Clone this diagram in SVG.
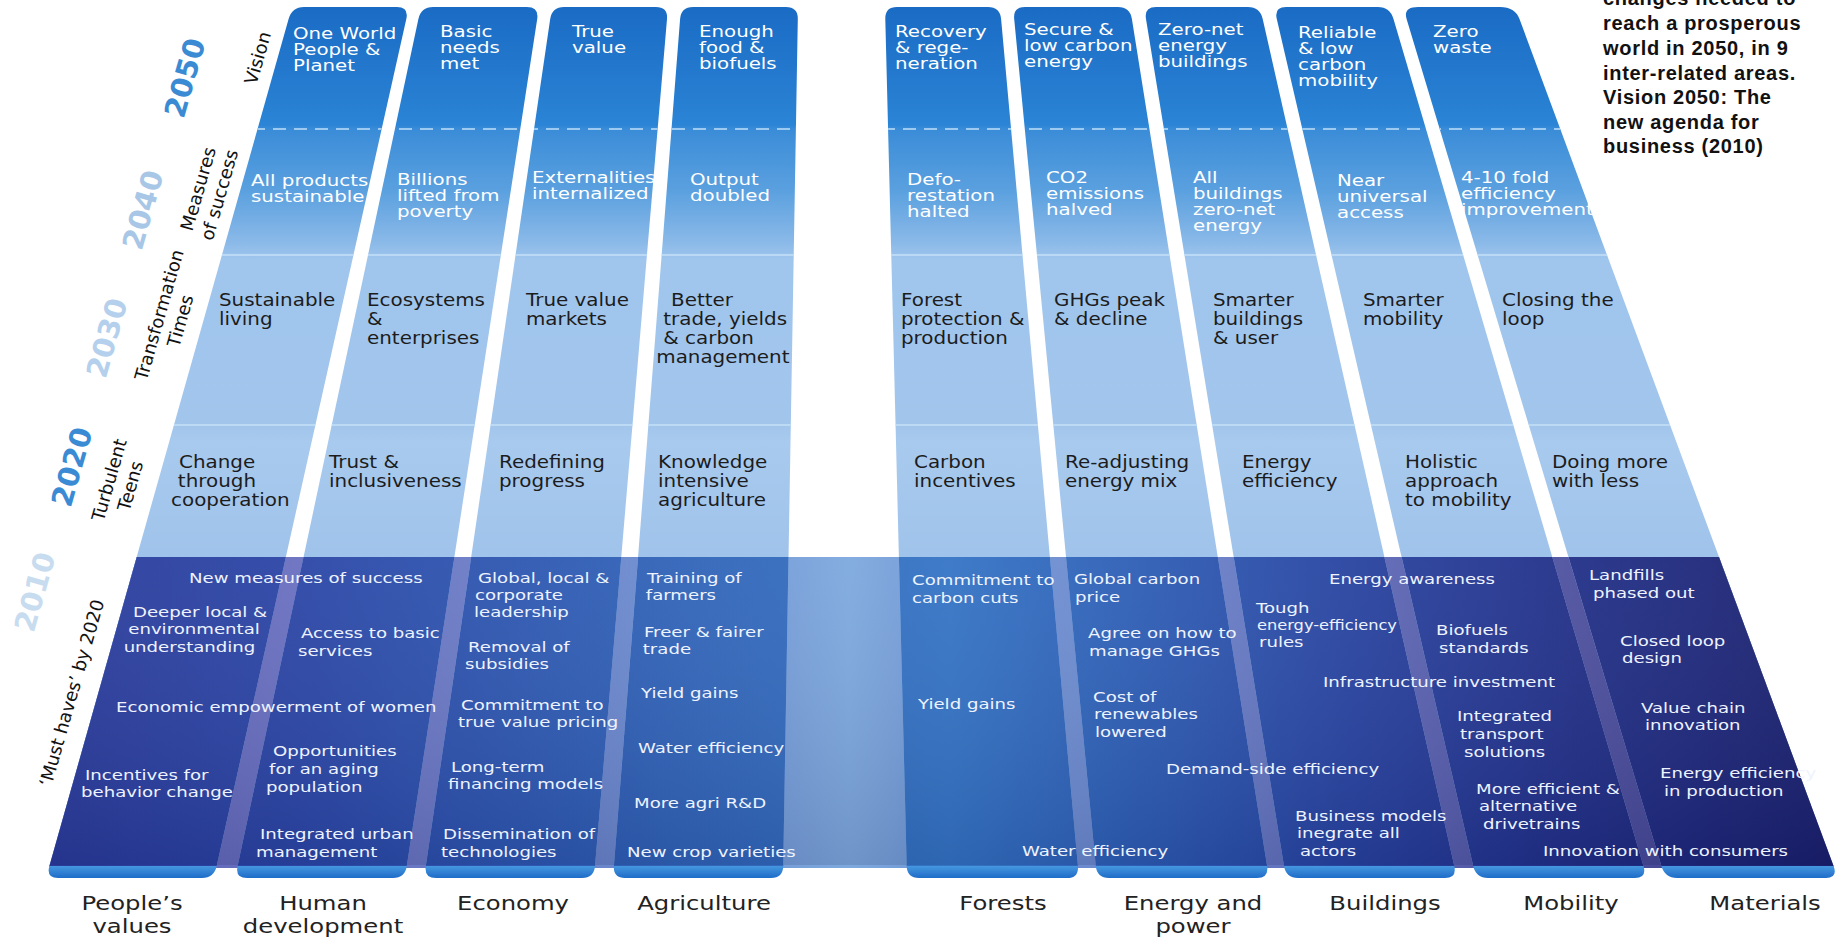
<svg xmlns="http://www.w3.org/2000/svg" width="1838" height="939" viewBox="0 0 1838 939">
<defs>
<style>
text { font-family: "DejaVu Sans", Verdana, sans-serif; }
.w { fill: #ffffff; font-size: 16.5px; }
.d { fill: #1c1c1c; font-size: 17px; }
.b { fill: #eef3ff; font-size: 14.5px; }
.lab { fill: #222222; font-size: 19px; text-anchor: middle; }
.side { fill: #111111; font-size: 18px; text-anchor: middle; }
.yr { font-size: 29px; font-weight: bold; text-anchor: middle; }
.note { font-family: "Liberation Sans", Arial, sans-serif; font-weight: bold; font-size: 20px; fill: #111111; letter-spacing: 0.7px; }
.col { fill: url(#colG); }
.bandpart { fill: url(#bandCol); }
</style>
<linearGradient id="colG" x1="0" y1="0" x2="0" y2="1">
<stop offset="0" stop-color="#1a6bc4"/>
<stop offset="0.135" stop-color="#2b84d5"/>
<stop offset="0.14" stop-color="#3a8cd8"/>
<stop offset="0.21" stop-color="#5aa0df"/>
<stop offset="0.27" stop-color="#8ab9e8"/>
<stop offset="0.29" stop-color="#a0c6ed"/>
<stop offset="0.48" stop-color="#a2c5ec"/>
<stop offset="0.50" stop-color="#a8caee"/>
<stop offset="0.63" stop-color="#a0c3eb"/>
<stop offset="0.984" stop-color="#a0c3eb"/>
<stop offset="0.985" stop-color="#4a9be2"/>
<stop offset="1" stop-color="#1d6cc8"/>
</linearGradient>
<linearGradient id="bandCol" gradientUnits="userSpaceOnUse" x1="40" y1="0" x2="1838" y2="0">
<stop offset="0" stop-color="#2a3a9a"/>
<stop offset="0.145" stop-color="#2b46a6"/>
<stop offset="0.256" stop-color="#2d56b0"/>
<stop offset="0.367" stop-color="#3165b9"/>
<stop offset="0.506" stop-color="#3474c5"/>
<stop offset="0.617" stop-color="#2d5cb4"/>
<stop offset="0.729" stop-color="#2843a0"/>
<stop offset="0.84" stop-color="#22318a"/>
<stop offset="1" stop-color="#1a1f6c"/>
</linearGradient>
<linearGradient id="bandBg" gradientUnits="userSpaceOnUse" x1="40" y1="0" x2="1838" y2="0">
<stop offset="0" stop-color="#5c62b6"/>
<stop offset="0.145" stop-color="#6a70c0"/>
<stop offset="0.256" stop-color="#6a7cc6"/>
<stop offset="0.367" stop-color="#6b90d2"/>
<stop offset="0.45" stop-color="#7ea9de"/>
<stop offset="0.506" stop-color="#6e95d4"/>
<stop offset="0.617" stop-color="#6c86cc"/>
<stop offset="0.729" stop-color="#5f6ab8"/>
<stop offset="0.84" stop-color="#4f52a0"/>
<stop offset="1" stop-color="#3a3c88"/>
</linearGradient>
<linearGradient id="bandShade" x1="0" y1="0" x2="0" y2="1">
<stop offset="0" stop-color="#ffffff" stop-opacity="0.05"/>
<stop offset="1" stop-color="#000028" stop-opacity="0.12"/>
</linearGradient>
<clipPath id="colsClip">
<use href="#s1"/><use href="#s2"/><use href="#s3"/><use href="#s4"/><use href="#s5"/><use href="#s6"/><use href="#s7"/><use href="#s8"/><use href="#s9"/>
</clipPath>
</defs>
<rect width="1838" height="939" fill="#ffffff"/>

<g id="band-2010">
<path d="M136.7,557 L1719,557 L1834,868 L49,868 Z" fill="url(#bandBg)"/>
</g>

<g id="columns">
<g id="col-peoples-values">
<path id="s1" class="col" d="M288.6,19 Q292,7 304,7 L397,7 Q409,7 406.3,19 L216.7,866 Q214,878 202,878 L58,878 Q46,878 49.4,866 Z"/>
<path class="bandpart" d="M136.7,557 L285.9,557 L216.7,866 L49.4,866 Z"/>
</g>
<g id="col-human-development">
<path id="s2" class="col" d="M418.4,19 Q421,7 433,7 L527,7 Q539,7 537.2,19 L406.8,866 Q405,878 393,878 L247,878 Q235,878 237.6,866 Z"/>
<path class="bandpart" d="M303.5,557 L454.4,557 L406.8,866 L237.6,866 Z"/>
</g>
<g id="col-economy">
<path id="s3" class="col" d="M550.2,19 Q552,7 564,7 L656,7 Q668,7 667,19 L595,866 Q594,878 582,878 L436,878 Q424,878 425.8,866 Z"/>
<path class="bandpart" d="M471.2,557 L621.3,557 L595,866 L425.8,866 Z"/>
</g>
<g id="col-agriculture">
<path id="s4" class="col" d="M680.1,19 Q681,7 693,7 L786,7 Q798,7 797.8,19 L783.2,866 Q783,878 771,878 L625,878 Q613,878 613.9,866 Z"/>
<path class="bandpart" d="M638.1,557 L788.5,557 L783.2,866 L613.9,866 Z"/>
</g>
<g id="col-forests">
<path id="s5" class="col" d="M885.3,19 Q885,7 897,7 L988,7 Q1000,7 1001.1,19 L1077.9,866 Q1079,878 1067,878 L919,878 Q907,878 906.7,866 Z"/>
<path class="bandpart" d="M898.9,557 L1049.9,557 L1077.9,866 L906.7,866 Z"/>
</g>
<g id="col-energy-power">
<path id="s6" class="col" d="M1014.2,19 Q1013,7 1025,7 L1118,7 Q1130,7 1131.9,19 L1267.1,866 Q1269,878 1257,878 L1109,878 Q1097,878 1095.8,866 Z"/>
<path class="bandpart" d="M1066,557 L1217.8,557 L1267.1,866 L1095.8,866 Z"/>
</g>
<g id="col-buildings">
<path id="s7" class="col" d="M1146,19 Q1144,7 1156,7 L1248,7 Q1260,7 1262.7,19 L1454.3,866 Q1457,878 1445,878 L1298,878 Q1286,878 1284,866 Z"/>
<path class="bandpart" d="M1233.7,557 L1384.4,557 L1454.3,866 L1284,866 Z"/>
</g>
<g id="col-mobility">
<path id="s8" class="col" d="M1276.8,19 Q1274,7 1286,7 L1378,7 Q1390,7 1393.5,19 L1643.5,866 Q1647,878 1635,878 L1488,878 Q1476,878 1473.2,866 Z"/>
<path class="bandpart" d="M1401.6,557 L1552.3,557 L1643.5,866 L1473.2,866 Z"/>
</g>
<g id="col-materials">
<path id="s9" class="col" d="M1406.6,19 Q1403,7 1418,7 L1500,7 Q1515,7 1519.5,19 L1833.6,866 Q1838,878 1826,878 L1677,878 Q1665,878 1661.4,866 Z"/>
<path class="bandpart" d="M1568.5,557 L1719,557 L1833.6,866 L1661.4,866 Z"/>
</g>
</g>

<g id="guides" clip-path="url(#colsClip)">
<line x1="0" y1="129" x2="1838" y2="129" stroke="#9ccaf0" stroke-width="2" stroke-dasharray="13 8"/>
<line x1="0" y1="255" x2="1838" y2="255" stroke="#c6e0f7" stroke-width="1.5"/>
<line x1="0" y1="425" x2="1838" y2="425" stroke="#c6e0f7" stroke-width="1.5"/>
</g>
<path d="M136.7,557 L1719,557 L1833,865 L49.5,865 Z" fill="url(#bandShade)"/>

<g id="timeline">
<text class="yr" fill="#3a8bd3" transform="translate(185 78) rotate(-74)" y="10">2050</text>
<text class="yr" fill="#a8c7e7" transform="translate(143 210) rotate(-74)" y="10">2040</text>
<text class="yr" fill="#b4d0ec" transform="translate(107 338) rotate(-74)" y="10">2030</text>
<text class="yr" fill="#3a8bd3" transform="translate(72 467) rotate(-74)" y="10">2020</text>
<text class="yr" fill="#c8dcf0" transform="translate(35 592) rotate(-74)" y="10">2010</text>
<text class="side" transform="translate(258 58) rotate(-74)" y="6">Vision</text>
<text class="side" transform="translate(209 192) rotate(-74)"><tspan x="0" y="-5">Measures</tspan><tspan x="0" y="17">of success</tspan></text>
<text class="side" transform="translate(170 318) rotate(-74)"><tspan x="0" y="-5">Transformation</tspan><tspan x="0" y="17">Times</tspan></text>
<text class="side" transform="translate(120 483) rotate(-74)"><tspan x="0" y="-5">Turbulent</tspan><tspan x="0" y="17">Teens</tspan></text>
<text class="side" font-size="17" transform="translate(72 693) rotate(-74)" y="6">‘Must haves’ by 2020</text>
</g>

<g id="labels">
<g id="t-peoples-values">
<text class="w" transform="translate(293 39) scale(1.2 1)"><tspan x="0">One World</tspan><tspan x="0" dy="16">People &amp;</tspan><tspan x="0" dy="16">Planet</tspan></text>
<text class="w" transform="translate(251 186) scale(1.2 1)"><tspan x="0">All products</tspan><tspan x="0" dy="16">sustainable</tspan></text>
<text class="d" transform="translate(219 306) scale(1.17 1)"><tspan x="0">Sustainable</tspan><tspan x="0" dy="19">living</tspan></text>
<text class="d" transform="translate(179 468) scale(1.17 1)"><tspan x="0">Change</tspan><tspan x="-1" dy="19">through</tspan><tspan x="-6.8" dy="19">cooperation</tspan></text>
<text class="b" transform="translate(189 583) scale(1.25 1)">New measures of success</text>
<text class="b" transform="translate(133 617) scale(1.25 1)"><tspan x="0">Deeper local &amp;</tspan><tspan x="-3.8" dy="17.5">environmental</tspan><tspan x="-7.5" dy="17.5">understanding</tspan></text>
<text class="b" transform="translate(116 712) scale(1.25 1)">Economic empowerment of women</text>
<text class="b" transform="translate(85 780) scale(1.25 1)"><tspan x="0">Incentives for</tspan><tspan x="-3.2" dy="17">behavior change</tspan></text>
<text class="lab" transform="translate(132 910) scale(1.28 1)"><tspan x="0">People’s</tspan><tspan x="0" dy="23">values</tspan></text>
</g>
<g id="t-human-development">
<text class="w" transform="translate(440 37) scale(1.2 1)"><tspan x="0">Basic</tspan><tspan x="0" dy="16">needs</tspan><tspan x="0" dy="16">met</tspan></text>
<text class="w" transform="translate(397 185) scale(1.2 1)"><tspan x="0">Billions</tspan><tspan x="0" dy="16">lifted from</tspan><tspan x="0" dy="16">poverty</tspan></text>
<text class="d" transform="translate(367 306) scale(1.17 1)"><tspan x="0">Ecosystems</tspan><tspan x="0" dy="19">&amp;</tspan><tspan x="0" dy="19">enterprises</tspan></text>
<text class="d" transform="translate(329 468) scale(1.17 1)"><tspan x="0">Trust &amp;</tspan><tspan x="0" dy="19">inclusiveness</tspan></text>
<text class="b" transform="translate(301 638) scale(1.25 1)"><tspan x="0">Access to basic</tspan><tspan x="-2.4" dy="18">services</tspan></text>
<text class="b" transform="translate(273 756) scale(1.25 1)"><tspan x="0">Opportunities</tspan><tspan x="-3.2" dy="18">for an aging</tspan><tspan x="-5.6" dy="18">population</tspan></text>
<text class="b" transform="translate(260 839) scale(1.25 1)"><tspan x="0">Integrated urban</tspan><tspan x="-3.2" dy="18">management</tspan></text>
<text class="lab" transform="translate(323 910) scale(1.28 1)"><tspan x="0">Human</tspan><tspan x="0" dy="23">development</tspan></text>
</g>
<g id="t-economy">
<text class="w" transform="translate(572 37) scale(1.2 1)"><tspan x="0">True</tspan><tspan x="0" dy="16">value</tspan></text>
<text class="w" transform="translate(532 183) scale(1.2 1)"><tspan x="0">Externalities</tspan><tspan x="0" dy="16">internalized</tspan></text>
<text class="d" transform="translate(526 306) scale(1.17 1)"><tspan x="0">True value</tspan><tspan x="0" dy="19">markets</tspan></text>
<text class="d" transform="translate(499 468) scale(1.17 1)"><tspan x="0">Redefining</tspan><tspan x="0" dy="19">progress</tspan></text>
<text class="b" transform="translate(478 583) scale(1.25 1)"><tspan x="0">Global, local &amp;</tspan><tspan x="-2.4" dy="17">corporate</tspan><tspan x="-3.2" dy="17">leadership</tspan></text>
<text class="b" transform="translate(468 652) scale(1.25 1)"><tspan x="0">Removal of</tspan><tspan x="-2.4" dy="17">subsidies</tspan></text>
<text class="b" transform="translate(461 710) scale(1.25 1)"><tspan x="0">Commitment to</tspan><tspan x="-2.4" dy="17">true value pricing</tspan></text>
<text class="b" transform="translate(451 772) scale(1.25 1)"><tspan x="0">Long-term</tspan><tspan x="-2.4" dy="17">financing models</tspan></text>
<text class="b" transform="translate(443 839) scale(1.25 1)"><tspan x="0">Dissemination of</tspan><tspan x="-1.6" dy="18">technologies</tspan></text>
<text class="lab" transform="translate(513 910) scale(1.28 1)">Economy</text>
</g>
<g id="t-agriculture">
<text class="w" transform="translate(699 37) scale(1.2 1)"><tspan x="0">Enough</tspan><tspan x="0" dy="16">food &amp;</tspan><tspan x="0" dy="16">biofuels</tspan></text>
<text class="w" transform="translate(690 185) scale(1.2 1)"><tspan x="0">Output</tspan><tspan x="0" dy="16">doubled</tspan></text>
<text class="d" transform="translate(671 306) scale(1.17 1)"><tspan x="0">Better</tspan><tspan x="-6.6" dy="19">trade, yields</tspan><tspan x="-6.6" dy="19">&amp; carbon</tspan><tspan x="-12.6" dy="19">management</tspan></text>
<text class="d" transform="translate(658 468) scale(1.17 1)"><tspan x="0">Knowledge</tspan><tspan x="0" dy="19">intensive</tspan><tspan x="0" dy="19">agriculture</tspan></text>
<text class="b" transform="translate(647 583) scale(1.25 1)"><tspan x="0">Training of</tspan><tspan x="-1" dy="17">farmers</tspan></text>
<text class="b" transform="translate(644 637) scale(1.25 1)"><tspan x="0">Freer &amp; fairer</tspan><tspan x="-1" dy="17">trade</tspan></text>
<text class="b" transform="translate(641 698) scale(1.25 1)">Yield gains</text>
<text class="b" transform="translate(638 753) scale(1.25 1)">Water efficiency</text>
<text class="b" transform="translate(634 808) scale(1.25 1)">More agri R&amp;D</text>
<text class="b" transform="translate(627 857) scale(1.25 1)">New crop varieties</text>
<text class="lab" transform="translate(704 910) scale(1.28 1)">Agriculture</text>
</g>
<g id="t-forests">
<text class="w" transform="translate(895 37) scale(1.2 1)"><tspan x="0">Recovery</tspan><tspan x="0" dy="16">&amp; rege-</tspan><tspan x="0" dy="16">neration</tspan></text>
<text class="w" transform="translate(907 185) scale(1.2 1)"><tspan x="0">Defo-</tspan><tspan x="0" dy="16">restation</tspan><tspan x="0" dy="16">halted</tspan></text>
<text class="d" transform="translate(901 306) scale(1.17 1)"><tspan x="0">Forest</tspan><tspan x="0" dy="19">protection &amp;</tspan><tspan x="0" dy="19">production</tspan></text>
<text class="d" transform="translate(914 468) scale(1.17 1)"><tspan x="0">Carbon</tspan><tspan x="0" dy="19">incentives</tspan></text>
<text class="b" transform="translate(912 585) scale(1.25 1)"><tspan x="0">Commitment to</tspan><tspan x="0" dy="18">carbon cuts</tspan></text>
<text class="b" transform="translate(918 709) scale(1.25 1)">Yield gains</text>
<text class="b" transform="translate(1022 856) scale(1.25 1)">Water efficiency</text>
<text class="lab" transform="translate(1003 910) scale(1.28 1)">Forests</text>
</g>
<g id="t-energy-power">
<text class="w" transform="translate(1024 35) scale(1.2 1)"><tspan x="0">Secure &amp;</tspan><tspan x="0" dy="16">low carbon</tspan><tspan x="0" dy="16">energy</tspan></text>
<text class="w" transform="translate(1046 183) scale(1.2 1)"><tspan x="0">CO2</tspan><tspan x="0" dy="16">emissions</tspan><tspan x="0" dy="16">halved</tspan></text>
<text class="d" transform="translate(1054 306) scale(1.17 1)"><tspan x="0">GHGs peak</tspan><tspan x="0" dy="19">&amp; decline</tspan></text>
<text class="d" transform="translate(1065 468) scale(1.17 1)"><tspan x="0">Re-adjusting</tspan><tspan x="0" dy="19">energy mix</tspan></text>
<text class="b" transform="translate(1074 584) scale(1.25 1)"><tspan x="0">Global carbon</tspan><tspan x="0.8" dy="18">price</tspan></text>
<text class="b" transform="translate(1088 638) scale(1.25 1)"><tspan x="0">Agree on how to</tspan><tspan x="0.8" dy="18">manage GHGs</tspan></text>
<text class="b" transform="translate(1093 702) scale(1.25 1)"><tspan x="0">Cost of</tspan><tspan x="0.8" dy="17.5">renewables</tspan><tspan x="1.6" dy="17.5">lowered</tspan></text>
<text class="b" transform="translate(1166 774) scale(1.25 1)">Demand-side efficiency</text>
<text class="lab" transform="translate(1193 910) scale(1.28 1)"><tspan x="0">Energy and</tspan><tspan x="0" dy="23">power</tspan></text>
</g>
<g id="t-buildings">
<text class="w" transform="translate(1158 35) scale(1.2 1)"><tspan x="0">Zero-net</tspan><tspan x="0" dy="16">energy</tspan><tspan x="0" dy="16">buildings</tspan></text>
<text class="w" transform="translate(1193 183) scale(1.2 1)"><tspan x="0">All</tspan><tspan x="0" dy="16">buildings</tspan><tspan x="0" dy="16">zero-net</tspan><tspan x="0" dy="16">energy</tspan></text>
<text class="d" transform="translate(1213 306) scale(1.17 1)"><tspan x="0">Smarter</tspan><tspan x="0" dy="19">buildings</tspan><tspan x="0" dy="19">&amp; user</tspan></text>
<text class="d" transform="translate(1242 468) scale(1.17 1)"><tspan x="0">Energy</tspan><tspan x="0" dy="19">efficiency</tspan></text>
<text class="b" transform="translate(1329 584) scale(1.25 1)">Energy awareness</text>
<text class="b" transform="translate(1256 613) scale(1.25 1)"><tspan x="0">Tough</tspan><tspan x="0.8" dy="17" textLength="112" lengthAdjust="spacingAndGlyphs">energy-efficiency</tspan><tspan x="2.4" dy="17">rules</tspan></text>
<text class="b" transform="translate(1323 687) scale(1.25 1)">Infrastructure investment</text>
<text class="b" transform="translate(1295 821) scale(1.25 1)"><tspan x="0">Business models</tspan><tspan x="1.6" dy="17.5">inegrate all</tspan><tspan x="4" dy="17.5">actors</tspan></text>
<text class="lab" transform="translate(1385 910) scale(1.28 1)">Buildings</text>
</g>
<g id="t-mobility">
<text class="w" transform="translate(1298 38) scale(1.2 1)"><tspan x="0">Reliable</tspan><tspan x="0" dy="16">&amp; low</tspan><tspan x="0" dy="16">carbon</tspan><tspan x="0" dy="16">mobility</tspan></text>
<text class="w" transform="translate(1337 186) scale(1.2 1)"><tspan x="0">Near</tspan><tspan x="0" dy="16">universal</tspan><tspan x="0" dy="16">access</tspan></text>
<text class="d" transform="translate(1363 306) scale(1.17 1)"><tspan x="0">Smarter</tspan><tspan x="0" dy="19">mobility</tspan></text>
<text class="d" transform="translate(1405 468) scale(1.17 1)"><tspan x="0">Holistic</tspan><tspan x="0" dy="19">approach</tspan><tspan x="0" dy="19">to mobility</tspan></text>
<text class="b" transform="translate(1436 635) scale(1.25 1)"><tspan x="0">Biofuels</tspan><tspan x="2.4" dy="18">standards</tspan></text>
<text class="b" transform="translate(1457 721) scale(1.25 1)"><tspan x="0">Integrated</tspan><tspan x="2.4" dy="18">transport</tspan><tspan x="5.6" dy="18">solutions</tspan></text>
<text class="b" transform="translate(1476 794) scale(1.25 1)"><tspan x="0">More efficient &amp;</tspan><tspan x="2.4" dy="17.5">alternative</tspan><tspan x="5.6" dy="17.5">drivetrains</tspan></text>
<text class="b" transform="translate(1543 856) scale(1.25 1)">Innovation with consumers</text>
<text class="lab" transform="translate(1571 910) scale(1.28 1)">Mobility</text>
</g>
<g id="t-materials">
<text class="w" transform="translate(1433 37) scale(1.2 1)"><tspan x="0">Zero</tspan><tspan x="0" dy="16">waste</tspan></text>
<text class="w" transform="translate(1461 183) scale(1.2 1)"><tspan x="0">4-10 fold</tspan><tspan x="0" dy="16">efficiency</tspan><tspan x="0" dy="16">improvement</tspan></text>
<text class="d" transform="translate(1502 306) scale(1.17 1)"><tspan x="0">Closing the</tspan><tspan x="0" dy="19">loop</tspan></text>
<text class="d" transform="translate(1552 468) scale(1.17 1)"><tspan x="0">Doing more</tspan><tspan x="0" dy="19">with less</tspan></text>
<text class="b" transform="translate(1589 580) scale(1.25 1)"><tspan x="0">Landfills</tspan><tspan x="3.2" dy="18">phased out</tspan></text>
<text class="b" transform="translate(1620 646) scale(1.25 1)"><tspan x="0">Closed loop</tspan><tspan x="1.6" dy="17">design</tspan></text>
<text class="b" transform="translate(1641 713) scale(1.25 1)"><tspan x="0">Value chain</tspan><tspan x="3.2" dy="17">innovation</tspan></text>
<text class="b" transform="translate(1660 778) scale(1.25 1)"><tspan x="0">Energy efficiency</tspan><tspan x="3.2" dy="18">in production</tspan></text>
<text class="lab" transform="translate(1765 910) scale(1.28 1)">Materials</text>
</g>
</g>

<g id="note">
<text class="note"><tspan x="1603" y="5">changes needed to</tspan><tspan x="1603" y="30">reach a prosperous</tspan><tspan x="1603" y="55">world in 2050, in 9</tspan><tspan x="1603" y="80">inter-related areas.</tspan><tspan x="1603" y="104">Vision 2050: The</tspan><tspan x="1603" y="129">new agenda for</tspan><tspan x="1603" y="153">business (2010)</tspan></text>
</g>
</svg>
